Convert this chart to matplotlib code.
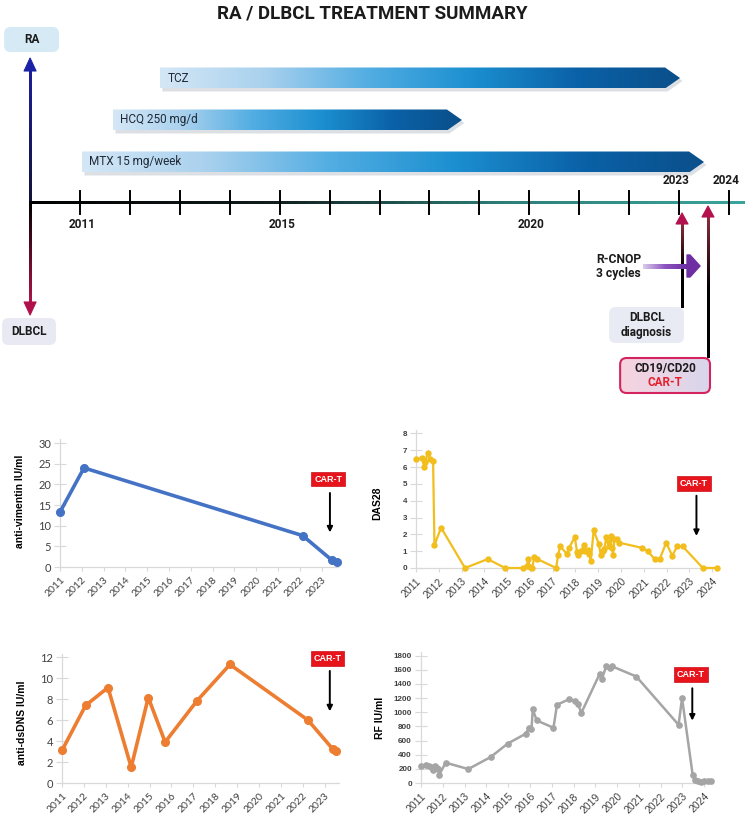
import numpy as np
import matplotlib.pyplot as plt
from matplotlib.colors import LinearSegmentedColormap
from matplotlib.patches import FancyBboxPatch, Polygon
from matplotlib.collections import LineCollection

# ---------------------------------------------------------------------------
# data
# ---------------------------------------------------------------------------
treat_names = ['TCZ', 'HCQ 250 mg/d', 'MTX 15 mg/week']
treat_start = [2012.6, 2011.66, 2011.04]
treat_end = [2023.02, 2018.65, 2023.5]

tl_years = list(range(2011, 2025))
years_below = [2011, 2015, 2020]
years_above = [2023, 2024]
tl_origin = 2010.0
dlbcl_dx = 2023.06
cart_date = 2023.58
rcnop_start = 2022.28
rcnop_end = 2023.42

vim_year = [2011.0, 2012.1, 2022.13, 2023.46, 2023.69]
vim_val = [13.3, 24.0, 7.6, 1.7, 1.3]

dsdna_year = [2011.0, 2012.08, 2013.1, 2014.16, 2014.94, 2015.71, 2017.17,
              2018.67, 2022.23, 2023.36, 2023.5]
dsdna_val = [3.1, 7.4, 9.1, 1.5, 8.15, 3.9, 7.85, 11.3, 6.0, 3.25, 3.05]

das_year = [2011.0, 2011.25, 2011.37, 2011.41, 2011.51, 2011.63, 2011.75,
            2011.81, 2012.1, 2013.15, 2014.15, 2014.91, 2015.69, 2015.86,
            2015.93, 2015.99, 2016.1, 2016.2, 2016.3, 2017.15, 2017.24,
            2017.33, 2017.63, 2017.71, 2017.97, 2018.07, 2018.13, 2018.25,
            2018.36, 2018.42, 2018.54, 2018.61, 2018.67, 2018.8, 2019.02,
            2019.11, 2019.2, 2019.27, 2019.35, 2019.45, 2019.54, 2019.59,
            2019.65, 2019.71, 2019.83, 2019.93, 2020.91, 2021.18, 2021.47,
            2021.7, 2021.98, 2022.25, 2022.46, 2022.71, 2023.59, 2024.21]
das_val = [6.46, 6.52, 6.0, 6.3, 6.85, 6.46, 6.38,
           1.35, 2.4, 0.0, 0.53, 0.0, 0.0, 0.1,
           0.53, 0.08, 0.0, 0.68, 0.55, 0.0, 0.8,
           1.28, 0.83, 1.18, 1.83, 0.95, 0.78, 1.0,
           1.35, 1.0, 1.05, 0.85, 0.42, 2.25, 1.42,
           0.8, 1.0, 1.15, 1.85, 1.3, 1.92, 1.2,
           0.8, 1.72, 1.72, 1.5, 1.2, 1.0, 0.53,
           0.53, 1.5, 0.73, 1.28, 1.28, 0.0, 0.0]

rf_year = [2011.0, 2011.23, 2011.37, 2011.46, 2011.53, 2011.64, 2011.72,
           2011.8, 2011.84, 2012.13, 2013.17, 2014.2, 2014.97, 2015.8,
           2015.96, 2016.07, 2016.13, 2016.31, 2017.08, 2017.24, 2017.8,
           2018.05, 2018.2, 2018.36, 2019.2, 2019.3, 2019.5, 2019.66,
           2019.76, 2020.88, 2022.82, 2022.98, 2023.47, 2023.58, 2023.7,
           2023.85, 2024.0, 2024.16, 2024.31]
rf_val = [235, 258, 240, 225, 188, 235, 216,
          197, 117, 287, 197, 367, 555, 695,
          780, 766, 1038, 883, 780, 1104, 1184,
          1156, 1118, 991, 1541, 1471, 1649, 1626,
          1649, 1504, 822, 1198, 108, 47, 23,
          20, 23, 23, 23]

# ---------------------------------------------------------------------------
# figure + timeline axes (x in years, y in pixels from top)
# ---------------------------------------------------------------------------
W, H = 745, 815
fig = plt.figure(figsize=(W / 100, H / 100), dpi=100)
fig.patch.set_facecolor('white')

PPY = 49.92                      # pixels per year on the timeline
XL = (2011 - 80 / PPY, 2011 + (W - 80) / PPY)
ax = fig.add_axes([0, 1 - 400 / H, 1, 400 / H])
ax.axis('off')

TFONT = ['Roboto', 'DejaVu Sans']
INK = '#1b1b1b'


def grad_line(ax, x0, y0, x1, y1, colors, lw, n=80, z=3):
    # gradient coloured line drawn as many short overlapping pieces
    xs = np.linspace(x0, x1, n + 1)
    ys = np.linspace(y0, y1, n + 1)
    segs = [[(xs[i], ys[i]), (xs[min(i + 2, n)], ys[min(i + 2, n)])]
            for i in range(n)]
    cmap = LinearSegmentedColormap.from_list('g', colors)
    cols = [cmap(t) for t in np.linspace(0, 1, n)]
    ax.add_collection(LineCollection(segs, colors=cols, linewidths=lw,
                                     capstyle='butt', antialiased=False,
                                     zorder=z))


def head(ax, x, tip, base, w_px, color, z=4):
    hw = w_px / 2 / PPY
    ax.add_patch(Polygon([(x - hw, base), (x, tip), (x + hw, base)],
                         closed=True, fc=color, ec=color, lw=0.8,
                         joinstyle='round', zorder=z))


def box(ax, x0, x1, y0, y1, fc, ec='none', lw=0, z=3):
    p = FancyBboxPatch((x0, y0), x1 - x0, y1 - y0,
                       boxstyle='round,pad=0,rounding_size=0.13',
                       mutation_aspect=PPY, fc=fc, ec=ec, lw=lw, zorder=z)
    ax.add_patch(p)
    return p


fig.text(0.5, 1 - 13 / H, 'RA / DLBCL TREATMENT SUMMARY', ha='center',
         va='center', fontsize=13.5, fontweight='bold', color=INK,
         family=TFONT)

# treatment bars with a blue gradient
bar_cmap = LinearSegmentedColormap.from_list(
    'bar', ['#d4e7f6', '#a9d1ee', '#52ade2', '#1b8fd0', '#0b62a8', '#0a4f8a'])
grad = np.linspace(0, 1, 256).reshape(1, -1)
for i, (name, s, e) in enumerate(zip(treat_names, treat_start, treat_end)):
    yc = 78 + 42 * i
    hh = 10.5
    tip = 0.3
    verts = [(s, yc - hh), (e - tip, yc - hh), (e, yc), (e - tip, yc + hh),
             (s, yc + hh)]
    ax.add_patch(Polygon([(x + 0.05, y + 3) for x, y in verts], closed=True,
                         fc='#8d99a6', alpha=0.3, ec='none', zorder=1))
    poly = Polygon(verts, closed=True, fc='none', ec='none', zorder=2)
    ax.add_patch(poly)
    im = ax.imshow(grad, cmap=bar_cmap, extent=(s, e, yc + hh, yc - hh),
                   aspect='auto', interpolation='bicubic', zorder=2)
    im.set_clip_path(poly)
    ax.text(s + 0.15, yc, name, ha='left', va='center', fontsize=8.5,
            color='#1f2a36', family=TFONT, zorder=3)

# main time axis
grad_line(ax, tl_origin, 202, XL[1], 202,
          ['#000000', '#101c1b', '#2c7f78', '#3aa39b'], lw=2.0)
for yr in tl_years:
    ax.plot([yr, yr], [191, 214], color='black', lw=1.4, zorder=4)
for yr in years_below:
    ax.text(yr + 0.04, 224, str(yr), ha='center', va='center', fontsize=8.5,
            fontweight='bold', color=INK, family=TFONT)
for yr in years_above:
    ax.text(yr - 0.06, 181, str(yr), ha='center', va='center', fontsize=8.5,
            fontweight='bold', color=INK, family=TFONT)

# RA (up) / DLBCL (down) arrows from the origin
grad_line(ax, tl_origin, 203, tl_origin, 70, ['#121236', '#1d1d9a'], lw=2.0)
head(ax, tl_origin, 58, 71, 12, '#1c22a6')
grad_line(ax, tl_origin, 201, tl_origin, 303, ['#000000', '#b0134a'], lw=2.0)
head(ax, tl_origin, 315, 302, 12, '#b0104c')

box(ax, tl_origin - 0.52, tl_origin + 0.58, 27, 52, '#d6eaf6')
ax.text(tl_origin + 0.03, 39.5, 'RA', ha='center', va='center', fontsize=8.5,
        fontweight='bold', color=INK, family=TFONT, zorder=4)
box(ax, tl_origin - 0.56, tl_origin + 0.52, 318, 345, '#e9e9f4')
ax.text(tl_origin - 0.02, 331.5, 'DLBCL', ha='center', va='center',
        fontsize=8.5, fontweight='bold', color=INK, family=TFONT, zorder=4)

# event arrows
grad_line(ax, dlbcl_dx, 307, dlbcl_dx, 223,
          ['#000000', '#000000', '#8a2a3a'], lw=1.8)
head(ax, dlbcl_dx, 213, 224, 12, '#b3114d')
grad_line(ax, cart_date, 357, cart_date, 216,
          ['#000000', '#000000', '#8a2a3a'], lw=1.8)
head(ax, cart_date, 206, 217, 12, '#b3114d')

# R-CNOP arrow
grad_line(ax, rcnop_start, 266, rcnop_end - 0.24, 266,
          ['#d9c9ea', '#8a52bf', '#6b2fa0'], lw=2.4)
hx = rcnop_end - 0.26
ax.add_patch(Polygon([(hx, 255), (hx + 0.06, 255), (rcnop_end, 266),
                      (hx + 0.06, 277), (hx, 277)], closed=True,
                     fc='#6e2fa2', ec='#6e2fa2', lw=1.0, joinstyle='round',
                     zorder=4))
ax.text(2021.34, 266.5, 'R-CNOP\n3 cycles', ha='left', va='center',
        fontsize=8.7, fontweight='bold', color=INK, family=TFONT,
        linespacing=1.1)

# DLBCL diagnosis box
box(ax, 2021.6, 2023.1, 307, 343, '#e8eaf4')
ax.text(2022.35, 325, 'DLBCL\ndiagnosis', ha='center', va='center',
        fontsize=8.5, fontweight='bold', color=INK, family=TFONT,
        linespacing=1.15, zorder=4)

# CAR-T box with pink/lavender gradient
cb = box(ax, 2021.82, 2023.62, 358, 393, 'none', ec='#d4245f', lw=1.5, z=5)
cimg = ax.imshow(grad, cmap=LinearSegmentedColormap.from_list(
    'pk', ['#f6d3df', '#e9d5e6', '#d8d6ec']),
    extent=(2021.82, 2023.62, 393, 358), aspect='auto', zorder=4)
cimg.set_clip_path(cb)
ax.text(2022.72, 368.5, 'CD19/CD20', ha='center', va='center', fontsize=8.5,
        fontweight='bold', color=INK, family=TFONT, zorder=6)
ax.text(2022.72, 382, 'CAR-T', ha='center', va='center', fontsize=8.5,
        fontweight='bold', color='#e3202c', family=TFONT, zorder=6)

ax.set_xlim(*XL)
ax.set_ylim(400, 0)


# ---------------------------------------------------------------------------
# lab value charts
# ---------------------------------------------------------------------------
def lab_chart(L, B, R, T, xs, ys, color, lw, ms, xmax, ymax, yticks, ylabel,
              lab_xy, cart_xy, arrow, ytick_font, ytick_bold, ytick_size):
    a = fig.add_axes([L / W, 1 - B / H, (R - L) / W, (B - T) / H])
    a.plot(xs, ys, color=color, lw=lw, marker='o', ms=ms, zorder=3,
           clip_on=False)
    a.set_xlim(2011, xmax)
    a.set_ylim(0, ymax)
    years = list(range(2011, int(xmax) + 1))
    a.set_xticks(years)
    a.set_xticklabels([str(y) for y in years], rotation=45, ha='right',
                      rotation_mode='anchor', fontsize=7.5, color='#404040',
                      family=ytick_font)
    a.set_yticks(yticks)
    a.set_yticklabels([str(v) for v in yticks], fontsize=ytick_size,
                      color='#404040', family=ytick_font,
                      fontweight='bold' if ytick_bold else 'normal')
    a.tick_params(axis='y', direction='inout', length=9, width=0.8,
                  color='#d9d9d9', pad=2)
    a.tick_params(axis='x', direction='out', length=3, width=0.8,
                  color='#d9d9d9', pad=3)
    for side in ('top', 'right'):
        a.spines[side].set_visible(False)
    for side in ('left', 'bottom'):
        a.spines[side].set_color('#d9d9d9')
        a.spines[side].set_linewidth(0.9)
    a.set_ylabel(ylabel, fontsize=7.5, fontweight='bold', color='black',
                 family=['Liberation Sans', 'DejaVu Sans'])
    a.yaxis.set_label_coords(*lab_xy)
    a.text(cart_xy[0], cart_xy[1], 'CAR-T', ha='center', va='center',
           fontsize=6.5, fontweight='bold', color='white',
           family=['Liberation Sans', 'DejaVu Sans'], zorder=5,
           bbox=dict(boxstyle='square,pad=0.32', fc='#e8141c', ec='#c8101a',
                     lw=0.5))
    a.annotate('', xy=(arrow[0], arrow[2]), xytext=(arrow[0], arrow[1]),
               arrowprops=dict(arrowstyle='-|>', color='black', lw=1.4,
                               mutation_scale=8), zorder=5)
    a.set_facecolor('none')
    return a


lab_chart(60, 567, 338, 439, vim_year, vim_val, '#4472C4', 2.6, 5.5,
          2023.75, 31, list(range(0, 31, 5)), 'anti-vimentin IU/ml',
          (-0.126, 0.51), (2023.3, 21.3), (2023.38, 18.6, 7.7),
          ['Lato', 'DejaVu Sans'], False, 8)

lab_chart(416, 568, 719, 430, das_year, das_val, '#F2BE1D', 1.6, 3.6,
          2024.3, 8.2, list(range(0, 9)), 'DAS28',
          (-0.112, 0.47), (2023.2, 5.03), (2023.31, 4.46, 1.74),
          ['Liberation Sans', 'DejaVu Sans'], True, 5.8)

lab_chart(62, 783, 339, 654, dsdna_year, dsdna_val, '#ED7D31', 2.6, 5.5,
          2023.65, 12.3, list(range(0, 13, 2)), 'anti-dsDNS IU/ml',
          (-0.126, 0.47), (2023.12, 11.86), (2023.23, 10.95, 6.57),
          ['Lato', 'DejaVu Sans'], False, 8)

lab_chart(421, 783, 713, 652, rf_year, rf_val, '#A5A5A5', 1.8, 3.8,
          2024.4, 1850, list(range(0, 1801, 200)), 'RF IU/ml',
          (-0.123, 0.5), (2023.38, 1527), (2023.45, 1377, 842),
          ['Liberation Sans', 'DejaVu Sans'], True, 5.8)

fig.savefig('out.png', dpi=100, facecolor='white')
